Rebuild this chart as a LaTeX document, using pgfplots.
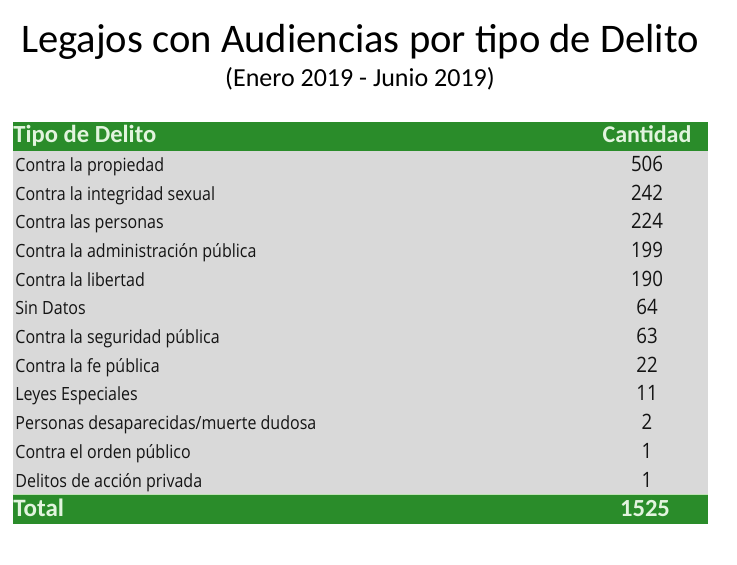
\documentclass[border=0pt]{standalone}
\usepackage{pgfplots}
\pgfplotsset{compat=1.18}
\usepackage{pgfplotstable}
\usepackage{fontspec}
\setmainfont{Carlito}
\newfontfamily\bodyfont{Open Sans}[FakeStretch=0.88]
\definecolor{hdrgreen}{RGB}{42,140,42}
\definecolor{rowgray}{RGB}{217,217,217}
\definecolor{hdrtext}{RGB}{226,244,222}
\definecolor{sepgreen}{RGB}{190,225,180}
\definecolor{bodytext}{RGB}{20,20,20}

\pgfplotstableread[col sep=comma]{
yb,label,value
171.3,Contra la propiedad,506
200.0,Contra la integridad sexual,242
228.7,Contra las personas,224
257.4,Contra la administración pública,199
286.1,Contra la libertad,190
314.8,Sin Datos,64
343.5,Contra la seguridad pública,63
372.2,Contra la fe pública,22
400.9,Leyes Especiales,11
429.6,Personas desaparecidas/muerte dudosa,2
458.3,Contra el orden público,1
487.0,Delitos de acción privada,1
}\delitos

\begin{document}
\begin{tikzpicture}
\begin{axis}[
  scale only axis, width=368.5pt, height=282pt,
  xmin=0, xmax=737, ymin=0, ymax=564, y dir=reverse,
  hide axis, clip=false,
]
% page background
\addplot[fill=white, draw=none] coordinates {(0,0) (737,0) (737,564) (0,564)} --cycle;
% header band
\addplot[fill=hdrgreen, draw=none] coordinates {(12.5,122.3) (707.5,122.3) (707.5,150.7) (12.5,150.7)} --cycle;
% gray body
\addplot[fill=rowgray, draw=none] coordinates {(12.5,150.7) (707.5,150.7) (707.5,494.5) (12.5,494.5)} --cycle;
% total band
\addplot[fill=hdrgreen, draw=none] coordinates {(12.5,494.5) (707.5,494.5) (707.5,523.5) (12.5,523.5)} --cycle;
\addplot[sepgreen, line width=0.7pt] coordinates {(12.5,494.3) (707.5,494.3)};
% row labels
\addplot[only marks, mark=none, point meta=explicit symbolic,
  nodes near coords={\pgfplotspointmeta},
  nodes near coords style={anchor=base west, font=\bodyfont\fontsize{9.1}{12}\selectfont, text=bodytext, inner sep=0pt}]
  table[x expr=15, y=yb, meta=label] {\delitos};
% values
\addplot[only marks, mark=none, point meta=explicit symbolic,
  nodes near coords={\pgfplotspointmeta},
  nodes near coords style={anchor=base, font=\bodyfont\fontsize{10.6}{12}\selectfont, text=bodytext, inner sep=0pt}]
  table[x expr=647, y=yb, meta=value] {\delitos};
% header and total texts
\node[anchor=base west, inner sep=0pt, text=hdrtext, font=\fontsize{12.3}{14}\bfseries] at (axis cs:13,142.5) {Tipo de Delito};
\node[anchor=base, inner sep=0pt, text=hdrtext, font=\fontsize{12}{14}\bfseries] at (axis cs:647,142.5) {Cantidad};
\node[anchor=base west, inner sep=0pt, text=hdrtext, font=\fontsize{12.5}{14}\bfseries] at (axis cs:13,516.5) {Total};
\node[anchor=base, inner sep=0pt, text=hdrtext, font=\fontsize{12.3}{14}\bfseries] at (axis cs:645,516.5) {1525};
% titles
\node[anchor=base, inner sep=0pt, font=\fontsize{20.3}{24}\selectfont] at (axis cs:360,52) {Legajos con Audiencias por tipo de Delito};
\node[anchor=base, inner sep=0pt, font=\fontsize{13}{15}\selectfont] at (axis cs:360,86) {(Enero 2019 - Junio 2019)};
\end{axis}
\end{tikzpicture}
\end{document}
